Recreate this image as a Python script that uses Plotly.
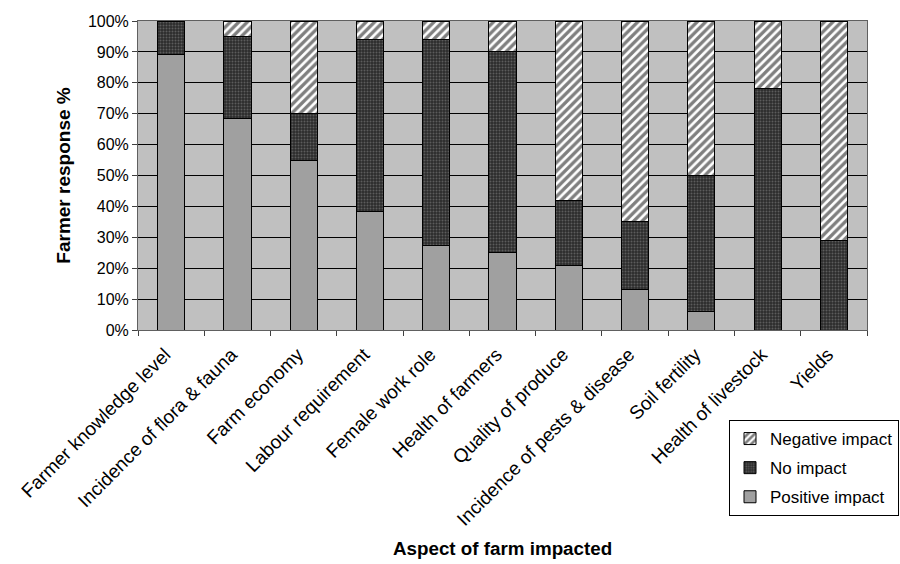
import plotly.graph_objects as go

# Survey categories and farmer response shares (%)
aspects = [
    "Farmer knowledge level",
    "Incidence of flora & fauna",
    "Farm economy",
    "Labour requirement",
    "Female work role",
    "Health of farmers",
    "Quality of produce",
    "Incidence of pests & disease",
    "Soil fertility",
    "Health of livestock",
    "Yields",
]
positive_impact = [89, 68.5, 55, 38.5, 27.5, 25, 21, 13, 6, 0, 0]
no_impact = [11, 26.5, 15, 55.5, 66.5, 65, 21, 22, 44, 78, 29]
negative_impact = [0, 5, 30, 6, 6, 10, 58, 65, 50, 22, 71]

y_ticks = [0, 10, 20, 30, 40, 50, 60, 70, 80, 90, 100]

FONT = "Liberation Sans, Arial, sans-serif"
outline = dict(color="black", width=1)

fig = go.Figure()
fig.add_trace(go.Bar(
    x=aspects, y=positive_impact, name="Positive impact",
    legendgroup="pos", legendrank=3,
    marker=dict(color="#a0a0a0", line=outline),
))
fig.add_trace(go.Bar(
    x=aspects, y=no_impact, name="No impact",
    legendgroup="none", legendrank=2,
    marker=dict(
        color="#303030", line=outline,
        pattern=dict(shape=".", bgcolor="#2c2c2c", fgcolor="#8c8c8c",
                     size=3, solidity=0.35),
    ),
))
fig.add_trace(go.Bar(
    x=aspects, y=negative_impact, name="Negative impact",
    legendgroup="neg", legendrank=1,
    marker=dict(
        color="white", line=outline,
        pattern=dict(shape="/", bgcolor="white", fgcolor="black",
                     size=6, solidity=0.55),
    ),
))

fig.update_layout(
    barmode="stack",
    bargap=0.59,
    width=900, height=564,
    margin=dict(l=138, r=33, t=21, b=234, autoexpand=False),
    paper_bgcolor="white",
    plot_bgcolor="#c0c0c0",
    font=dict(family=FONT, size=16, color="black"),
    showlegend=True,
    legend=dict(
        traceorder="grouped",
        x=(899 - 138) / 729, xanchor="right",
        y=(330 - 420) / 309, yanchor="top",
        bgcolor="white", bordercolor="black", borderwidth=1,
        font=dict(family=FONT, size=17),
        itemwidth=30, tracegroupgap=4,
    ),
)

fig.update_xaxes(
    tickangle=-45,
    ticks="outside", tickson="boundaries", ticklen=5, tickcolor="#404040",
    showline=True, linecolor="#606060", linewidth=1, mirror=True,
    showgrid=False,
    tickfont=dict(family=FONT, size=19),
    ticklabelstandoff=5, ticklabelshift=-6,
)
fig.update_yaxes(
    range=[0, 100],
    tickvals=y_ticks, ticktext=[f"{v}%" for v in y_ticks],
    ticks="outside", ticklen=5, tickcolor="#404040",
    showline=True, linecolor="#606060", linewidth=1, mirror=True,
    showgrid=True, gridcolor="black", gridwidth=1,
    zeroline=False,
    tickfont=dict(family=FONT, size=16),
    title=dict(text="<b>Farmer response %</b>", font=dict(family=FONT, size=19),
               standoff=12),
)

fig.add_annotation(
    text="<b>Aspect of farm impacted</b>",
    xref="paper", yref="paper", x=0.5, y=(330 - 548) / 309,
    xanchor="center", yanchor="middle", showarrow=False,
    font=dict(family=FONT, size=18.8),
)

fig.write_html("out.html")
